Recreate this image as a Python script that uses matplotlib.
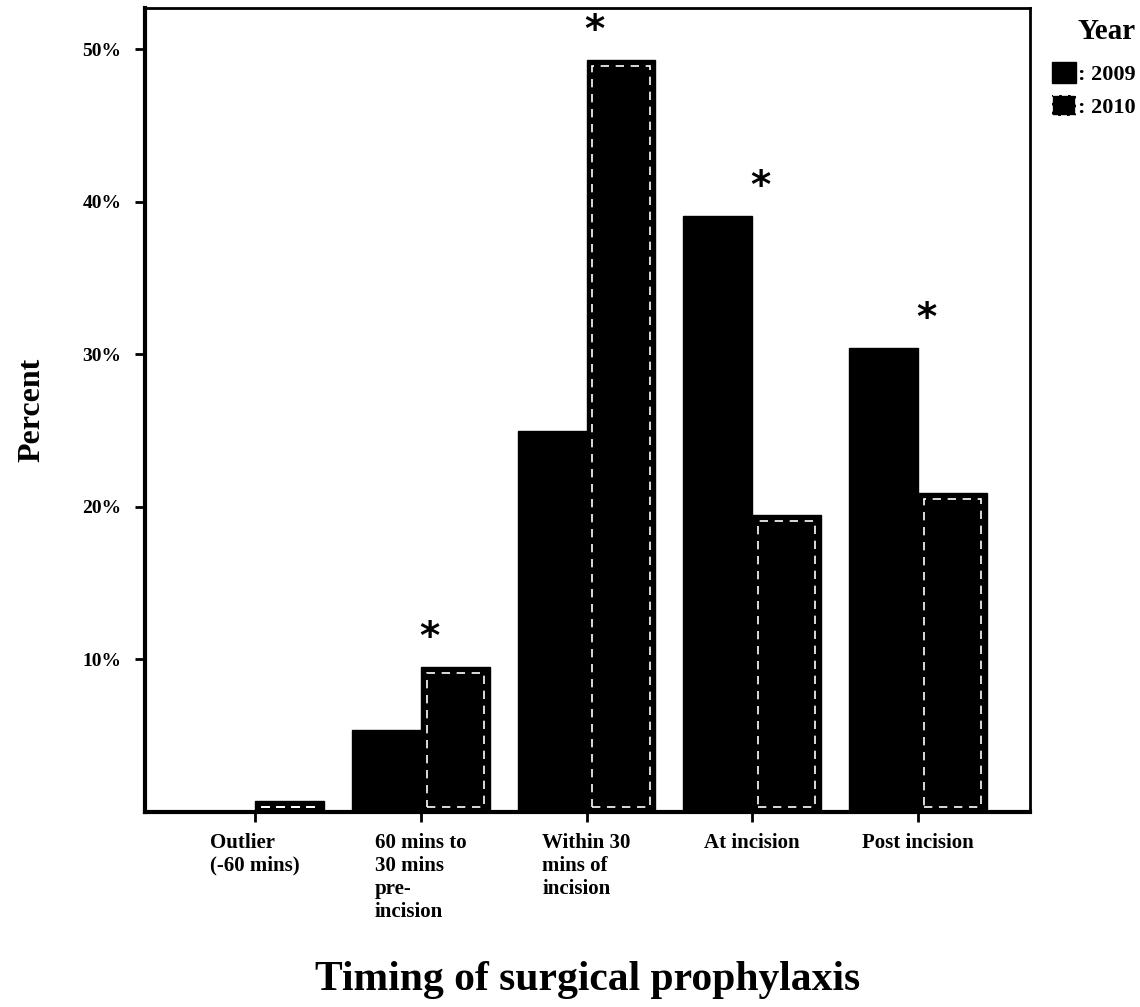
import matplotlib
matplotlib.use("Agg")
import matplotlib.pyplot as plt
import numpy as np
from matplotlib.patches import Patch

plt.rcParams['font.family'] = ['Liberation Serif', 'DejaVu Serif']
plt.rcParams['font.weight'] = 'bold'

categories = ["Outlier\n(-60 mins)", "60 mins to\n30 mins\npre-\nincision",
              "Within 30\nmins of\nincision", "At incision", "Post incision"]
pct_2009 = [0.0, 5.4, 25.0, 39.1, 30.4]
pct_2010 = [0.7, 9.5, 49.3, 19.5, 20.9]
significant = [False, True, True, True, True]
y_ticks = [10, 20, 30, 40, 50]
y_tick_labels = ["10%", "20%", "30%", "40%", "50%"]

fig = plt.figure(figsize=(11.4, 10.07), dpi=100)
ax = fig.add_axes([0.1272, 0.1936, 0.7763, 0.7984])

x = np.arange(len(categories))
w = 0.415

ax.bar(x - w / 2, pct_2009, w, color='black', edgecolor='black', linewidth=1)
ax.bar(x + w / 2, pct_2010, w, color='black', edgecolor='black', linewidth=1)
# inner dashed white outline for 2010
inner_h = [max(v - 0.7, 0.05) for v in pct_2010]
ax.bar(x + w / 2, inner_h, w - 0.07, bottom=0.3, fill=False, edgecolor='white',
       linestyle=(0, (5, 4)), linewidth=1.2)

for i, sig in enumerate(significant):
    if sig:
        top = max(pct_2009[i], pct_2010[i])
        ax.text(x[i] + 0.05, top + 1.9, "*", ha='center', va='center',
                fontsize=28, fontweight='bold', family='DejaVu Sans', clip_on=False)

ax.set_xlim(-0.663, 4.675)
ax.set_ylim(0, 52.7)
ax.set_yticks(y_ticks)
ax.set_yticklabels(y_tick_labels, fontsize=14, fontweight='bold')
ax.set_xticks(x)
ax.set_xticklabels(categories, fontsize=15, fontweight='bold', multialignment='left',
                   linespacing=1.2)
ax.tick_params(axis='both', direction='out', length=7, width=2, pad=8)
ax.tick_params(axis='y', pad=10)

for side in ['left', 'bottom']:
    ax.spines[side].set_linewidth(3)
for side in ['top', 'right']:
    ax.spines[side].set_linewidth(2)

ax.set_ylabel("Percent", fontsize=23, fontweight='bold', labelpad=26)
ax.set_xlabel("Timing of surgical prophylaxis", fontsize=30, fontweight='bold', labelpad=28)

handles = [Patch(facecolor='black', edgecolor='black'),
           Patch(facecolor='black', edgecolor='white', linestyle='--', linewidth=1.2)]
leg = fig.legend(handles, [": 2009", ": 2010"], loc='upper right',
                 bbox_to_anchor=(1136 / 1140, 1 - 18 / 1007), frameon=False,
                 title="Year", title_fontproperties={'size': 21, 'weight': 'bold'},
                 prop={'size': 16, 'weight': 'bold'}, handlelength=1.1, handleheight=1.1,
                 handletextpad=0.1, labelspacing=0.45, borderpad=0, borderaxespad=0)
leg._legend_box.align = "right"
leg._legend_box.sep = 12

fig.savefig("out.png", dpi=100, facecolor='white')
